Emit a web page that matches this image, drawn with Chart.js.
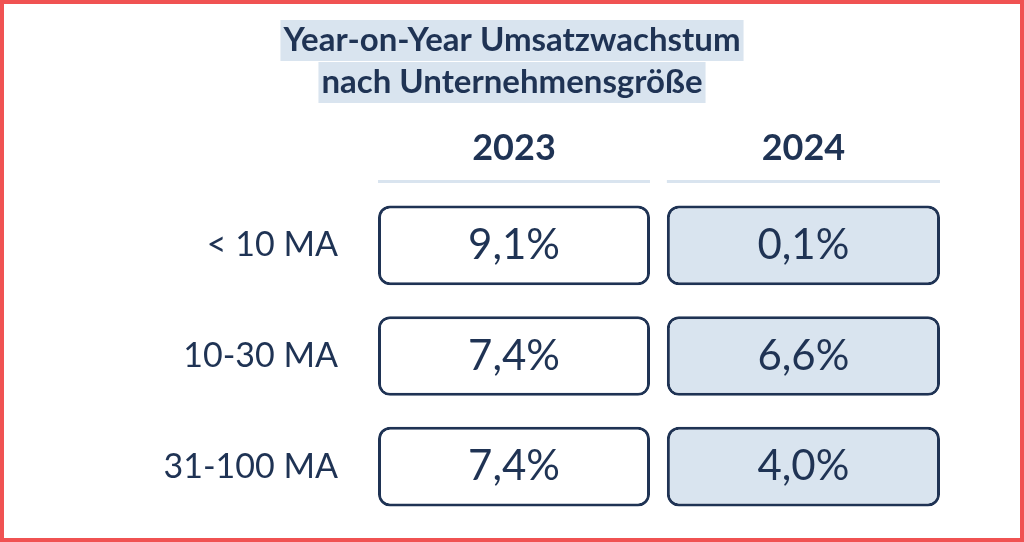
<!DOCTYPE html>
<html>
<head>
<meta charset="utf-8">
<script src="https://cdn.jsdelivr.net/npm/chart.js@4"></script>
<style>
  body { margin: 0; background: #fff; }
  #wrap { width: 1024px; height: 542px; position: relative; }
</style>
</head>
<body>
<div id="wrap"><canvas id="tableChart"></canvas></div>
<script>
// Daten
const rows = ['< 10 MA', '10-30 MA', '31-100 MA'];
const years = ['2023', '2024'];
const growth2023 = [9.1, 7.4, 7.4];
const growth2024 = [0.1, 6.6, 4.0];
const titleLines = ['Year-on-Year Umsatzwachstum', 'nach Unternehmensgröße'];

const navy = '#1f3354';
const lightBlue = '#d9e4ef';
const fmt = v => v.toFixed(1).replace('.', ',') + '%';

// Spaltenpositionen auf der x-Achse (0..1)
const colSpan = [[0, 0.484], [0.514, 1]];

const tablePlugin = {
    id: 'tablePlugin',
    beforeDraw(chart) {
        const ctx = chart.ctx;
        ctx.save();
        ctx.fillStyle = '#fff';
        ctx.fillRect(0, 0, chart.width, chart.height);
        ctx.restore();
    },
    afterDraw(chart) {
        const ctx = chart.ctx;
        const x = chart.scales.x, y = chart.scales.y;
        ctx.save();
        // Rahmen
        ctx.strokeStyle = '#f05252';
        ctx.lineWidth = 4;
        ctx.strokeRect(2, 2, chart.width - 4, chart.height - 4);

        // Titel mit Hinterlegung
        ctx.font = 'bold 33px Lato';
        ctx.textAlign = 'center';
        ctx.textBaseline = 'middle';
        titleLines.forEach((t, i) => {
            const cy = 40 + i * 42;
            const w = ctx.measureText(t).width;
            ctx.fillStyle = lightBlue;
            ctx.fillRect(chart.width / 2 - w / 2 - 3, cy - 20, w + 6, 41);
            ctx.fillStyle = navy;
            ctx.fillText(t, chart.width / 2, cy);
        });

        // Spaltenköpfe + Linien
        years.forEach((yr, i) => {
            const x0 = x.getPixelForValue(colSpan[i][0]);
            const x1 = x.getPixelForValue(colSpan[i][1]);
            ctx.fillStyle = navy;
            ctx.font = 'bold 36px Lato';
            ctx.fillText(yr, (x0 + x1) / 2, 148);
            ctx.fillStyle = lightBlue;
            ctx.fillRect(x0, 180, x1 - x0, 3);
        });

        // Zeilenbeschriftung und Werte
        rows.forEach((r, i) => {
            const cy = y.getPixelForValue(i);
            ctx.fillStyle = navy;
            ctx.font = '34px Lato';
            ctx.textAlign = 'right';
            ctx.fillText(r, 338, cy);
            ctx.textAlign = 'center';
            ctx.font = '42px Lato';
            [growth2023[i], growth2024[i]].forEach((v, j) => {
                const cx = (x.getPixelForValue(colSpan[j][0]) + x.getPixelForValue(colSpan[j][1])) / 2;
                ctx.fillText(fmt(v), cx, cy);
            });
        });
        ctx.restore();
    }
};

const ctx = document.getElementById('tableChart').getContext('2d');
new Chart(ctx, {
    type: 'bar',
    data: {
        labels: rows,
        datasets: [
            {
                label: years[0],
                data: growth2023.map(() => colSpan[0]),
                backgroundColor: '#fff',
                borderColor: navy,
                borderWidth: 3,
                borderRadius: 12,
                borderSkipped: false,
                grouped: false,
                barPercentage: 0.72,
                categoryPercentage: 1
            },
            {
                label: years[1],
                data: growth2024.map(() => colSpan[1]),
                backgroundColor: lightBlue,
                borderColor: navy,
                borderWidth: 3,
                borderRadius: 12,
                borderSkipped: false,
                grouped: false,
                barPercentage: 0.72,
                categoryPercentage: 1
            }
        ]
    },
    options: {
        indexAxis: 'y',
        responsive: true,
        maintainAspectRatio: false,
        animation: false,
        layout: { padding: { left: 378, right: 84, top: 190, bottom: 20 } },
        scales: {
            x: { display: false, min: 0, max: 1 },
            y: { display: false }
        },
        plugins: {
            legend: { display: false },
            tooltip: { enabled: false }
        }
    },
    plugins: [tablePlugin]
});
</script>
</body>
</html>
